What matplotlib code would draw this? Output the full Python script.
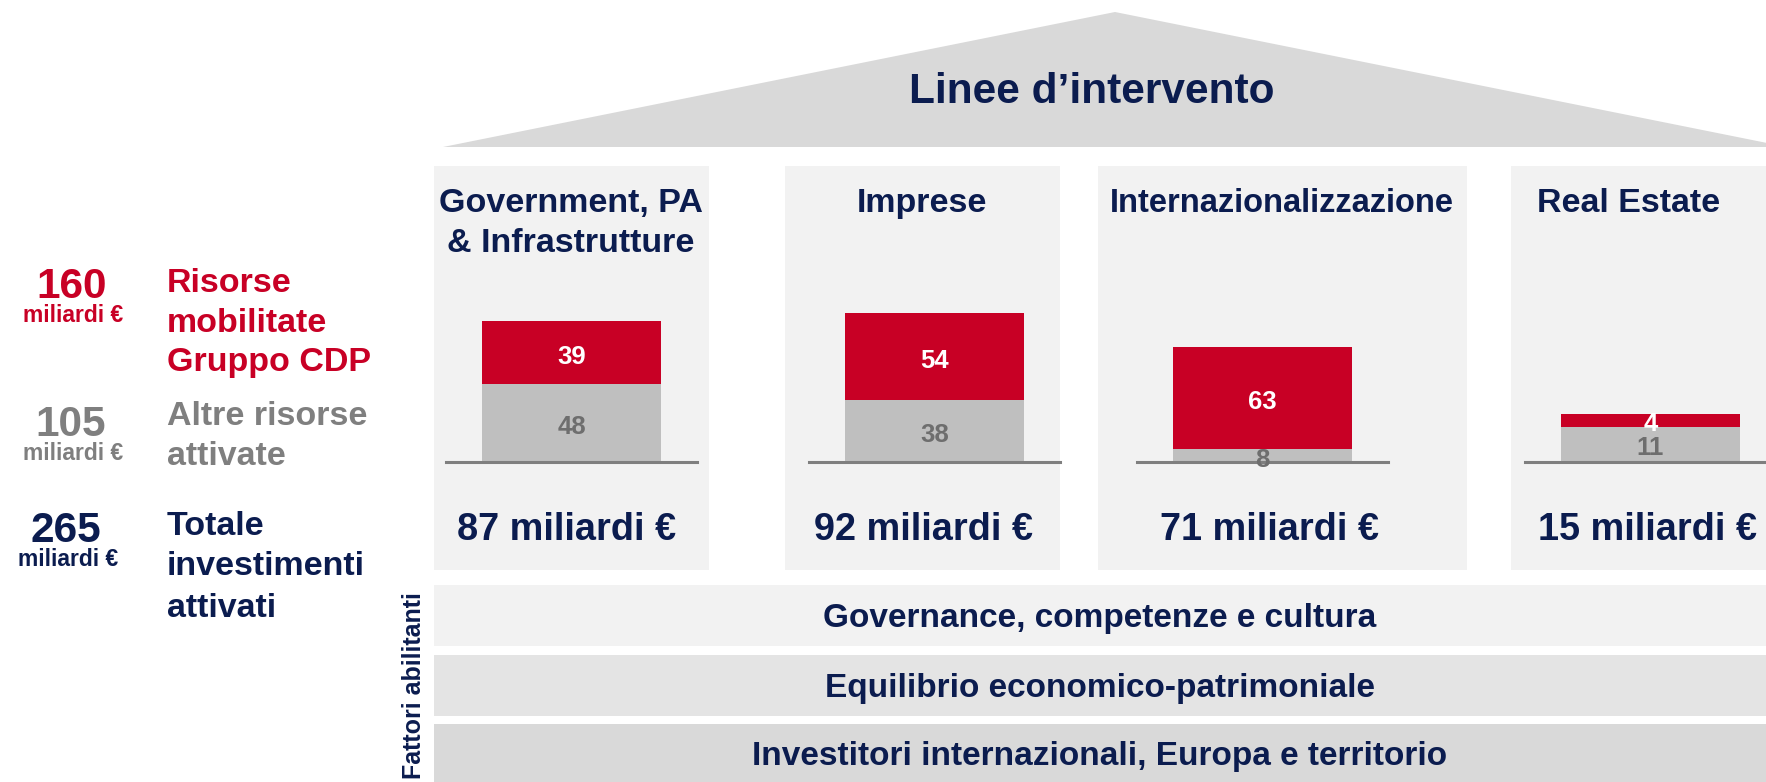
import matplotlib
matplotlib.use('Agg')
import matplotlib.pyplot as plt
from matplotlib.patches import Rectangle, Polygon
from matplotlib.transforms import offset_copy

plt.rcParams['font.family'] = ['Liberation Sans', 'DejaVu Sans']
plt.rcParams['font.weight'] = 'bold'

# ─── Data ────────────────────────────────────────────────────────────
categories = ['Government, PA\n& Infrastrutture', 'Imprese',
              'Internazionalizzazione', 'Real Estate']
risorse_cdp = [39, 54, 63, 4]      # Risorse mobilitate Gruppo CDP
altre_risorse = [48, 38, 8, 11]    # Altre risorse attivate
fattori = ['Governance, competenze e cultura',
           'Equilibrio economico-patrimoniale',
           'Investitori internazionali, Europa e territorio']
unit = 'miliardi €'

totali = [c + a for c, a in zip(risorse_cdp, altre_risorse)]

# ─── Colours ─────────────────────────────────────────────────────────
RED = '#C80025'
GREY_BAR = '#BFBFBF'
GREY_TXT = '#7F7F7F'
NAVY = '#0B1C4F'
PANEL = '#F2F2F2'

W, H = 1766, 782
fig = plt.figure(figsize=(W / 100, H / 100), dpi=100)

# background axes in pixel coordinates, used for the layout shapes
bg = fig.add_axes([0, 0, 1, 1])
bg.set_xlim(0, W)
bg.set_ylim(H, 0)
bg.axis('off')


def txt(x, y, s, size, color, **kw):
    kw.setdefault('ha', 'center')
    kw.setdefault('va', 'baseline')
    return bg.text(x, y, s, fontsize=size, color=color, fontweight='bold',
                   **kw)


# roof
bg.add_patch(Polygon([(443, 147), (1115, 12), (1787, 147)],
                     closed=True, facecolor='#D9D9D9', edgecolor='none'))
txt(1092, 103, 'Linee d\u2019intervento', 30.5, NAVY)

# ─── Panels with stacked bars ────────────────────────────────────────
panels_x = [(434, 709), (785, 1060), (1098, 1467), (1511, 1790)]
lines_x = [(446, 697), (809, 1060), (1137, 1388), (1525, 1766)]
bars_x = [(482, 661), (845, 1024), (1173, 1352), (1561, 1740)]
title_x = [571, 922, 1282, 1629]
title_size = [24.5, 24.5, 23.5, 24.5]
total_x = [567, 924, 1269, 1648]
# the original slide draws the small Real Estate bar enlarged
px_per_unit = [1.62, 1.62, 1.62, 3.2]
base_y = 462
ax_h = 170

for i, cat in enumerate(categories):
    x0, x1 = panels_x[i]
    bg.add_patch(Rectangle((x0, 166), x1 - x0, 404, facecolor=PANEL,
                           edgecolor='none'))
    for j, line in enumerate(cat.split('\n')):
        txt(title_x[i], 212 + 40 * j, line, title_size[i], NAVY)
    txt(total_x[i], 540, f'{totali[i]} {unit}', 27.3, NAVY)

    # bar axes: one per panel
    lx0, lx1 = lines_x[i]
    ax = fig.add_axes([lx0 / W, (H - base_y) / H, (lx1 - lx0) / W, ax_h / H])
    ax.set_xlim(lx0, lx1)
    ax.set_ylim(0, ax_h / px_per_unit[i])
    ax.axis('off')
    bx0, bx1 = bars_x[i]
    xc = (bx0 + bx1) / 2
    ax.bar(xc, altre_risorse[i], width=bx1 - bx0, color=GREY_BAR)
    ax.bar(xc, risorse_cdp[i], width=bx1 - bx0, bottom=altre_risorse[i],
           color=RED)
    ax.axhline(0, color=GREY_TXT, linewidth=2.2, clip_on=False)
    lab_tr = offset_copy(ax.transData, fig=fig, x=0, y=-4, units='dots')
    ax.text(xc, altre_risorse[i] / 2, str(altre_risorse[i]), fontsize=18.5,
            fontweight='bold', color='#6E6E6E', ha='center', va='center',
            transform=lab_tr, clip_on=False)
    ax.text(xc, altre_risorse[i] + risorse_cdp[i] / 2, str(risorse_cdp[i]),
            fontsize=18.5, fontweight='bold', color='white', ha='center',
            va='center', transform=lab_tr, clip_on=False)

# ─── Fattori abilitanti ──────────────────────────────────────────────
rows_y = [(585, 646), (655, 716), (724, 790)]
rows_col = ['#F2F2F2', '#E4E4E4', '#D9D9D9']
rows_base = [627, 697, 765]
for (y0, y1), col, yb, label in zip(rows_y, rows_col, rows_base, fattori):
    bg.add_patch(Rectangle((434, y0), W - 434, y1 - y0, facecolor=col,
                           edgecolor='none'))
    txt(1100, yb, label, 24, NAVY)
txt(414, 592, 'Fattori abilitanti', 18, NAVY, rotation=90, va='top')

# ─── Left summary ────────────────────────────────────────────────────
summary = [
    (sum(risorse_cdp), RED, (72, 298), (73, 322),
     ['Risorse', 'mobilitate', 'Gruppo CDP'], [292, 332, 371]),
    (sum(altre_risorse), GREY_TXT, (71, 436), (73, 460),
     ['Altre risorse', 'attivate'], [425, 465]),
    (sum(totali), NAVY, (66, 542), (68, 566),
     ['Totale', 'investimenti', 'attivati'], [535, 575, 617]),
]
for value, col, (nx, ny), (ux, uy), lines, ys in summary:
    txt(nx, ny, str(value), 30.5, col)
    txt(ux, uy, unit, 16.5, col)
    for line, yl in zip(lines, ys):
        txt(167, yl, line, 24.5, col, ha='left')

plt.savefig('out.png', dpi=100)
plt.close()
